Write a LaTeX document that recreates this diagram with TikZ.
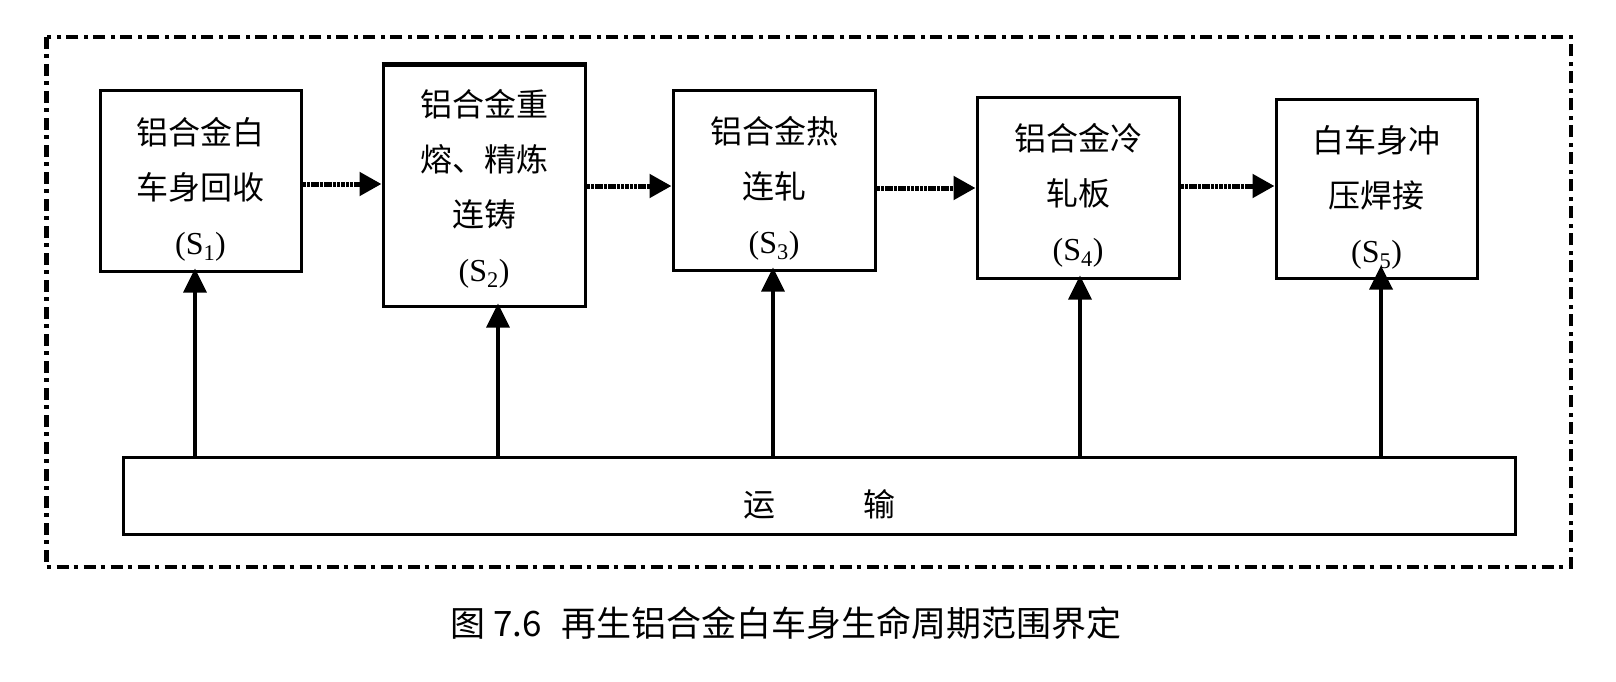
\documentclass[tikz,border=0pt]{standalone}
\usepackage{fontspec}
\setmainfont{Liberation Serif}
\newfontfamily\cjk{Noto Sans CJK SC}
\usetikzlibrary{arrows.meta}
\tikzset{
  stage/.style={draw, line width=3bp, inner sep=0pt},
  stagetext/.style={align=center, inner sep=0pt, font=\cjk\fontsize{32bp}{55bp}\selectfont},
  flow/.style={line width=5bp, dash pattern=on 3.5bp off 0.8bp, -{Triangle[length=22bp,width=23bp]}},
  feed/.style={line width=3.5bp, shorten <=-1bp, shorten >=-4bp, -{Triangle[length=24bp,width=23bp]}},
  border/.style={line width=4.5bp, dash pattern=on 12bp off 5bp on 4bp off 6bp}
}
\newcommand{\stagesub}[1]{{\rmfamily (S\textsubscript{#1})}}
\begin{document}
\begin{tikzpicture}[x=1bp,y=-1bp]
\useasboundingbox (0,0) rectangle (1616,682);
\coordinate (B1) at (46.5,37);
\coordinate (B2) at (1571,567);
\coordinate (C1) at (200.5,181);
\coordinate (C2) at (484,186);
\coordinate (C3) at (774,180.5);
\coordinate (C4) at (1078,188);
\coordinate (C5) at (1376.5,189);
\coordinate (CT) at (819.5,495.5);
\coordinate (L12) at (0,184);
\coordinate (L23) at (0,186);
\coordinate (L34) at (0,188);
\coordinate (L45) at (0,186);
\coordinate (T1) at (195,457);
\coordinate (T2) at (498,457);
\coordinate (T3) at (773,457);
\coordinate (T4) at (1080,457);
\coordinate (T5) at (1381,457);

 \draw[border] (B1) rectangle (B2);
 \node[stage, minimum width=201bp, minimum height=180bp,
   label={[stagetext, yshift=-8bp]center:铝合金白\\车身回收\\\stagesub{1}}] (S1) at (C1) {};
 \node[stage, minimum width=202bp, minimum height=240bp,
   label={[stagetext, yshift=-3bp]center:铝合金重\\熔、精炼\\连铸\\\stagesub{2}}] (S2) at (C2) {};
 \node[stage, minimum width=202bp, minimum height=179bp,
   label={[stagetext, yshift=-8bp]center:铝合金热\\连轧\\\stagesub{3}}] (S3) at (C3) {};
 \node[stage, minimum width=202bp, minimum height=180bp,
   label={[stagetext, yshift=-7bp]center:铝合金冷\\轧板\\\stagesub{4}}] (S4) at (C4) {};
 \node[stage, minimum width=201bp, minimum height=178bp,
   label={[stagetext, yshift=-8bp]center:白车身冲\\压焊接\\\stagesub{5}}] (S5) at (C5) {};
 \draw[line width=5bp] (S2.north west) -- (S2.north east);
 \node[stage, minimum width=1391bp, minimum height=77bp,
   label={[stagetext, yshift=-9bp]center:运\hspace{88bp}输}] (T) at (CT) {};

 \draw[flow] (S1.east |- L12) -- (S2.west |- L12);
 \draw[flow] (S2.east |- L23) -- (S3.west |- L23);
 \draw[flow] (S3.east |- L34) -- (S4.west |- L34);
 \draw[flow] (S4.east |- L45) -- (S5.west |- L45);

 \draw[feed] (T1) -- (T1 |- S1.south);
 \draw[feed] (T2) -- (T2 |- S2.south);
 \draw[feed] (T3) -- (T3 |- S3.south);
 \draw[feed] (T4) -- (T4 |- S4.south);
 \draw[feed] (T5) -- ([yshift=10bp]T5 |- S5.south);

 \node[font=\cjk\fontsize{35bp}{40bp}\selectfont, inner sep=0pt] (cap) at (786,623) {图\hspace{8bp}7.6\hspace{20bp}再生铝合金白车身生命周期范围界定};
\end{tikzpicture}
\end{document}
